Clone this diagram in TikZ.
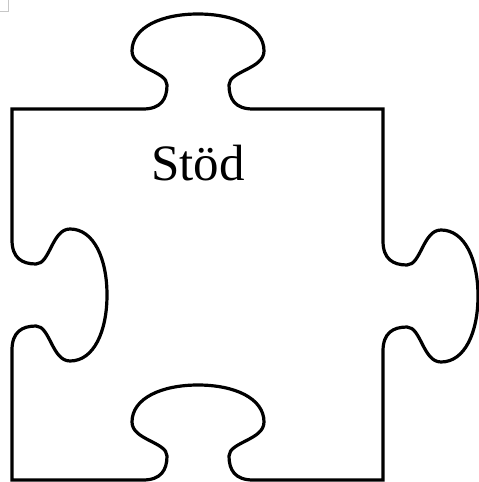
\documentclass[tikz,border=0pt]{standalone}
\usepackage{fontspec}
\setmainfont{Liberation Serif}
\begin{document}
\begin{tikzpicture}[x=1pt,y=-1pt,
  outline/.style={draw=black,line width=3.2pt,line join=miter},
  cornermark/.style={draw=black!22,line width=1pt},
  label/.style={font=\fontsize{51}{51}\selectfont,anchor=base,inner sep=0pt}]
\useasboundingbox (0,0) rectangle (479,482);
\draw[cornermark] (0,11) -- (8,11) -- (8,0);
% puzzle piece outline
\draw[outline]
  (12,109) -- (143,109)
  .. controls (161,109) and (167,99) .. (167,85)
  .. controls (167,71) and (132,69) .. (132,51)
  .. controls (132,27) and (162,14) .. (198,14)
  .. controls (234,14) and (264,27) .. (264,51)
  .. controls (264,69) and (229,71) .. (229,85)
  .. controls (229,99) and (235,109) .. (253,109)
  -- (383,109) -- (383,241)
  .. controls (383,259) and (393,265) .. (407,265)
  .. controls (421,265) and (423,230) .. (441,230)
  .. controls (465,230) and (478,260) .. (478,296)
  .. controls (478,332) and (465,362) .. (441,362)
  .. controls (423,362) and (421,327) .. (407,327)
  .. controls (393,327) and (383,333) .. (383,351)
  -- (383,480) -- (253,480)
  .. controls (235,480) and (229,470) .. (229,456)
  .. controls (229,442) and (264,440) .. (264,422)
  .. controls (264,398) and (234,385) .. (198,385)
  .. controls (162,385) and (132,398) .. (132,422)
  .. controls (132,440) and (167,442) .. (167,456)
  .. controls (167,470) and (161,480) .. (143,480)
  -- (12,480) -- (12,350)
  .. controls (12,332) and (22,326) .. (36,326)
  .. controls (50,326) and (52,361) .. (70,361)
  .. controls (94,361) and (107,331) .. (107,295)
  .. controls (107,259) and (94,229) .. (70,229)
  .. controls (52,229) and (50,264) .. (36,264)
  .. controls (22,264) and (12,258) .. (12,240)
  -- cycle;
\node[label] (title) at (198,180) {Stöd};
\end{tikzpicture}
\end{document}
